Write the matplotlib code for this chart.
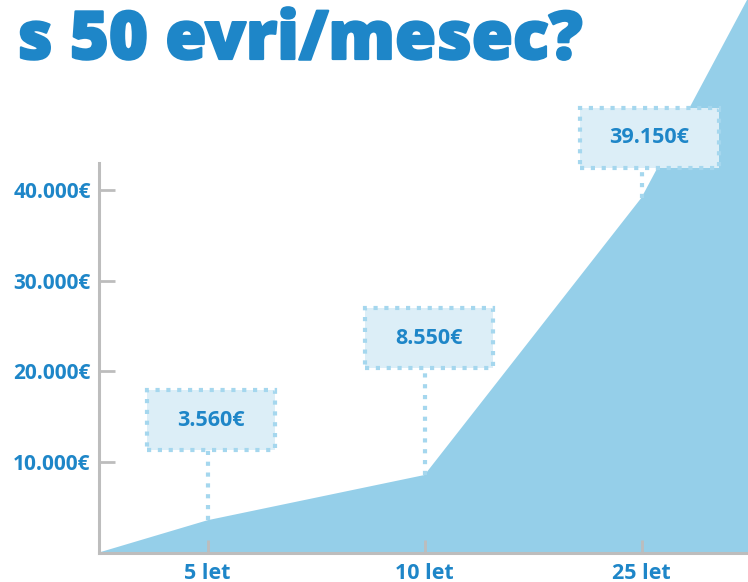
import matplotlib
matplotlib.use("Agg")
import matplotlib.pyplot as plt
import matplotlib.patheffects as pe
from matplotlib.patches import Rectangle
from matplotlib.transforms import IdentityTransform

plt.rcParams["font.family"] = ["Open Sans", "DejaVu Sans"]

# data
labels = ["5 let", "10 let", "25 let"]
values = [3560, 8550, 39150]
next_value = 84000  # curve continues past the cropped right edge
yticks = [10000, 20000, 30000, 40000]

BLUE = "#1E86C8"
AREA = "#95CFE9"
BOX_FILL = "#DCEEF7"
BOX_EDGE = "#A5D7EE"
GRAY = "#BDBDBD"

fig = plt.figure(figsize=(7.48, 5.82), dpi=100)
ax = fig.add_axes([99 / 748, 29.5 / 582, 1 - 99 / 748, 552.5 / 582])

xs = [-0.5] + list(range(len(values))) + [len(values)]
ys = [0] + values + [next_value]
ax.fill_between(xs, 0, ys, color=AREA, lw=0, zorder=1)

ax.set_xlim(-0.5, (748 - 99) / 217 - 0.5)
ax.set_ylim(0, 552.7 / 9.067 * 1000)

for s in ["top", "right"]:
    ax.spines[s].set_visible(False)
for s in ["left", "bottom"]:
    ax.spines[s].set_color(GRAY)
    ax.spines[s].set_linewidth(2.2)
    ax.spines[s].set_zorder(5)
ax.spines["left"].set_bounds(0, 43000)

ax.set_xticks(range(len(labels)))
ax.set_xticklabels(labels)
ax.set_yticks(yticks)
ax.set_yticklabels([f"{v:,}".replace(",", ".") + "€" for v in yticks])
ax.tick_params(axis="x", direction="in", length=9.4, width=2, color=GRAY,
               labelsize=15.5, labelcolor=BLUE, pad=7.5)
ax.tick_params(axis="y", direction="in", length=11.5, width=2, color=GRAY,
               labelsize=15, labelcolor=BLUE, pad=6)
for t in ax.get_xticklabels() + ax.get_yticklabels():
    t.set_fontweight("bold")

# callout boxes: (dx, dy) offset of box centre from the point, box size, in pixels
offsets = [(3, 100), (4.5, 137), (7.5, 60)]
sizes = [(128, 60), (128, 60), (139, 60)]
dots = (0, (1, 1.6))
for i, v in enumerate(values):
    px, py = ax.transData.transform((i, v))
    dx, dy = offsets[i]
    w, h = sizes[i]
    cx, cy = px + dx, py + dy
    ax.plot([px, px], [py, cy - h / 2], transform=IdentityTransform(),
            color=BOX_EDGE, lw=3, ls=dots, dash_capstyle="butt",
            clip_on=False, zorder=2)
    ax.add_patch(Rectangle((cx - w / 2, cy - h / 2), w, h, transform=IdentityTransform(),
                           fc=BOX_FILL, ec=BOX_EDGE, lw=3, ls=dots, clip_on=False, zorder=3))
    ax.text(cx, cy, f"{v:,}".replace(",", ".") + "€", transform=IdentityTransform(),
            ha="center", va="center", fontsize=15.5, fontweight="bold",
            color=BLUE, zorder=4)

fig.text(17 / 748, 1 - 59 / 582, "s 50 evri/mesec?", fontsize=48, fontweight="heavy",
         color=BLUE, ha="left", va="baseline",
         path_effects=[pe.withStroke(linewidth=1.6, foreground=BLUE)])

fig.savefig("out.png", dpi=100)
